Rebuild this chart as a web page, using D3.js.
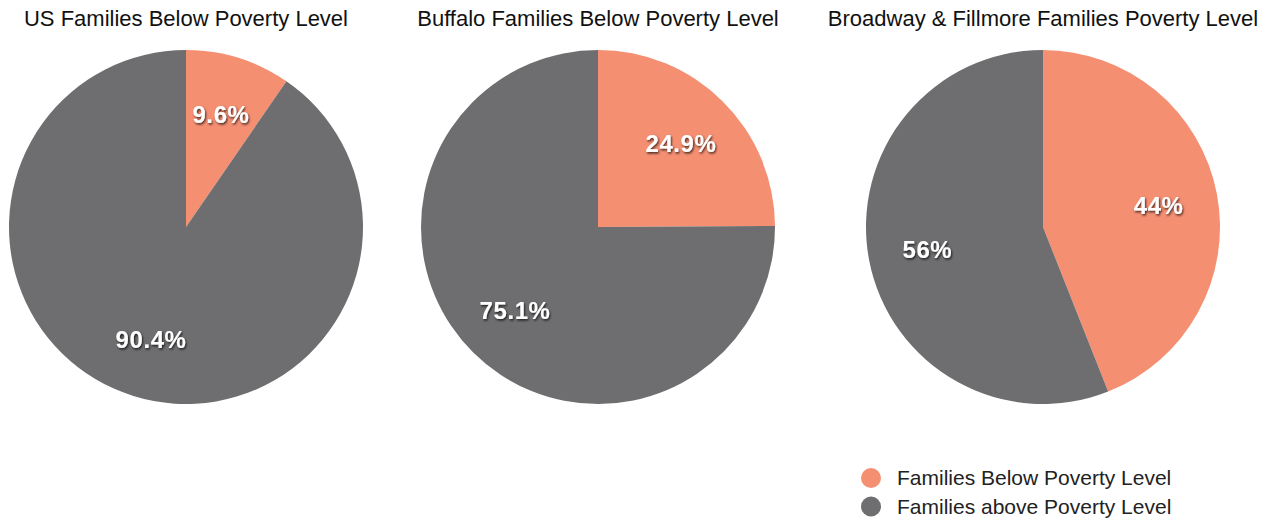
<!DOCTYPE html>
<html>
<head>
<meta charset="utf-8">
<script src="https://cdn.jsdelivr.net/npm/d3@7"></script>
<style>
  html, body { margin: 0; padding: 0; background: #fff; }
  svg { display: block; }
  .title { font-family: "Liberation Sans", Arial, sans-serif; font-size: 22px; fill: #111; }
  .pct { font-family: "Liberation Sans", Arial, sans-serif; font-size: 24px; font-weight: bold; fill: #fff; letter-spacing: 0.6px; }
  .legend text { font-family: "Liberation Sans", Arial, sans-serif; font-size: 21px; fill: #222; }
</style>
</head>
<body>
<svg id="chart" width="1270" height="521"></svg>
<script>
// Share of families below / above the poverty level
const categories = ["Families Below Poverty Level", "Families above Poverty Level"];
const titles = [
  "US Families Below Poverty Level",
  "Buffalo Families Below Poverty Level",
  "Broadway & Fillmore Families Poverty Level"
];
const usValues = [9.6, 90.4];
const buffaloValues = [24.9, 75.1];
const broadwayValues = [44, 56];
const valueLabels = [["9.6%", "90.4%"], ["24.9%", "75.1%"], ["44%", "56%"]];

const seriesList = [usValues, buffaloValues, broadwayValues];
const colors = ["#F58F72", "#6E6E70"];

const svg = d3.select("#chart");
const defs = svg.append("defs");
const shadow = defs.append("filter").attr("id", "txtShadow")
  .attr("x", "-20%").attr("y", "-30%").attr("width", "140%").attr("height", "160%");
shadow.append("feDropShadow")
  .attr("dx", 1).attr("dy", 1.5).attr("stdDeviation", 1.3)
  .attr("flood-color", "#000").attr("flood-opacity", 0.75);

const color = d3.scaleOrdinal().domain(categories).range(colors);
const centersX = [186, 598, 1043];
const cy = 227;
const radius = 177;

const pie = d3.pie().sort(null).value(d => d.value);
const arc = d3.arc().innerRadius(0).outerRadius(radius);
const labelArc = d3.arc().innerRadius(radius * 0.665).outerRadius(radius * 0.665);

seriesList.forEach((vals, i) => {
  const data = vals.map((v, j) => ({ key: categories[j], value: v, label: valueLabels[i][j] }));
  svg.append("text").attr("class", "title")
    .attr("x", centersX[i]).attr("y", 26)
    .attr("text-anchor", "middle")
    .text(titles[i]);

  const g = svg.append("g").attr("transform", `translate(${centersX[i]},${cy})`);
  const arcs = pie(data);
  g.selectAll("path").data(arcs).join("path")
    .attr("d", arc)
    .attr("fill", d => color(d.data.key));
  g.selectAll("text").data(arcs).join("text")
    .attr("class", "pct")
    .attr("transform", d => `translate(${labelArc.centroid(d)})`)
    .attr("text-anchor", "middle")
    .attr("dy", "0.36em")
    .attr("filter", "url(#txtShadow)")
    .text(d => d.data.label);
});

// Legend
const legend = svg.append("g").attr("class", "legend").attr("transform", "translate(871,478)");
const items = legend.selectAll("g").data(categories).join("g")
  .attr("transform", (d, i) => `translate(0,${i * 28.5})`);
items.append("circle").attr("r", 10).attr("fill", d => color(d));
items.append("text").attr("x", 26).attr("dy", "0.35em").text(d => d);
</script>
</body>
</html>
